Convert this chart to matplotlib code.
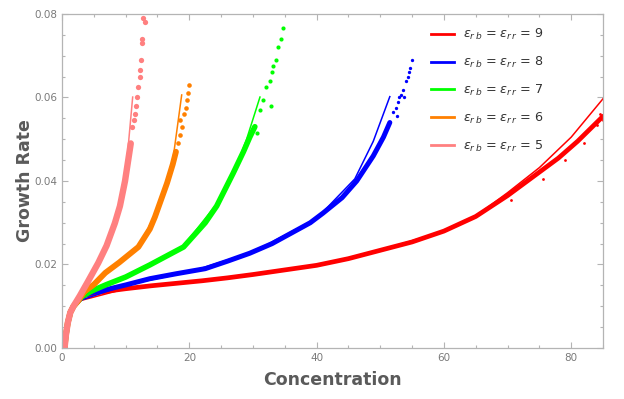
import matplotlib
matplotlib.use("Agg")
import matplotlib.pyplot as plt
from matplotlib.ticker import MultipleLocator, FormatStrFormatter

# eps = 9 (red)
conc_9 = [0.4, 0.6, 0.9, 1.3, 1.8, 2.5, 3.5, 5, 7, 10, 14, 18, 22, 26, 30, 35, 40, 45, 50, 55, 60, 65, 70, 74, 78, 81, 83, 85]
rate_9 = [0.000, 0.003, 0.006, 0.0085, 0.0100, 0.0112, 0.0125, 0.0131, 0.0136, 0.0142, 0.0149, 0.0155, 0.0161, 0.0168,
          0.0176, 0.0187, 0.0198, 0.0214, 0.0234, 0.0254, 0.0280, 0.0315, 0.0365, 0.0410, 0.0455, 0.0495, 0.0525, 0.0555]
conc_9_tail = [70.5, 75.5, 79.0, 82.0, 84.0, 84.6, 85.0]
rate_9_tail = [0.0355, 0.0405, 0.0450, 0.0492, 0.0535, 0.0560, 0.0545]
fit_conc_9 = [2.5, 10, 20, 30, 40, 50, 60, 65, 70, 75, 80, 85]
fit_rate_9 = [0.0112, 0.0142, 0.0158, 0.0176, 0.0198, 0.0234, 0.0280, 0.0316, 0.0372, 0.0432, 0.0505, 0.0597]

# eps = 8 (blue)
conc_8 = [0.4, 0.6, 0.9, 1.3, 1.8, 2.5, 3.5, 5, 7, 10, 13.8, 18, 22.5, 26, 29.5, 33, 36, 39, 41, 44, 46.3, 48.9, 50.5, 51.5]
rate_8 = [0.000, 0.003, 0.006, 0.0085, 0.0100, 0.0112, 0.0127, 0.0134, 0.0140, 0.0151, 0.0166, 0.0178, 0.0190,
          0.0208, 0.0227, 0.0250, 0.0275, 0.0300, 0.0323, 0.0360, 0.0400, 0.0460, 0.0505, 0.0540]
conc_8_tail = [52.0, 52.4, 52.8, 53.0, 53.3, 53.6, 54.0, 54.3, 54.5, 54.7, 55.0, 52.6, 53.8]
rate_8_tail = [0.0565, 0.0575, 0.0590, 0.0600, 0.0605, 0.0618, 0.0640, 0.0650, 0.0660, 0.0670, 0.0690, 0.0555, 0.0600]
fit_conc_8 = [2.5, 10, 20, 30, 40, 46, 48.9, 51.5]
fit_rate_8 = [0.0112, 0.0151, 0.0182, 0.0230, 0.0310, 0.0405, 0.0495, 0.0602]

# eps = 7 (green)
conc_7 = [0.4, 0.6, 0.9, 1.3, 1.8, 2.5, 3.5, 5, 7, 10, 13.8, 17, 19.1, 22.5, 24.3, 26.9, 28.5, 29.5, 30.3]
rate_7 = [0.000, 0.003, 0.006, 0.0085, 0.0100, 0.0112, 0.0130, 0.0139, 0.0152, 0.0170, 0.0199, 0.0225, 0.0242,
          0.0300, 0.0340, 0.0419, 0.0470, 0.0505, 0.0530]
conc_7_tail = [30.6, 31.1, 31.6, 32.1, 32.6, 33.0, 33.2, 33.6, 34.0, 34.4, 34.7, 32.8]
rate_7_tail = [0.0515, 0.0570, 0.0594, 0.0625, 0.0640, 0.0660, 0.0675, 0.0690, 0.0720, 0.0740, 0.0766, 0.0580]
fit_conc_7 = [2.5, 7, 13.8, 19.1, 24.3, 27, 29, 31.1]
fit_rate_7 = [0.0112, 0.0152, 0.0199, 0.0245, 0.0345, 0.0420, 0.0500, 0.0601]

# eps = 6 (orange)
conc_6 = [0.4, 0.6, 0.9, 1.3, 1.8, 2.5, 3.5, 5, 6.8, 9, 12, 13.8, 14.6, 16.5, 17.4, 17.9]
rate_6 = [0.000, 0.003, 0.006, 0.0085, 0.0100, 0.0112, 0.0135, 0.0152, 0.0180, 0.0205, 0.0242, 0.0285, 0.0314, 0.0395,
          0.0440, 0.0470]
conc_6_tail = [18.2, 18.5, 18.8, 19.2, 19.4, 19.6, 19.8, 20.0, 18.6]
rate_6_tail = [0.0490, 0.0510, 0.0530, 0.0560, 0.0575, 0.0594, 0.0610, 0.0630, 0.0545]
fit_conc_6 = [2.5, 6.8, 12, 14.6, 16.5, 17.5, 18.8]
fit_rate_6 = [0.0112, 0.0180, 0.0242, 0.0318, 0.0400, 0.0460, 0.0606]

# eps = 5 (pink)
conc_5 = [0.4, 0.6, 0.9, 1.3, 1.8, 2.8, 4.1, 5.7, 7.0, 8.3, 9.1, 9.9, 10.4, 10.8]
rate_5 = [0.000, 0.003, 0.006, 0.0085, 0.0100, 0.0125, 0.0160, 0.0204, 0.0245, 0.0299, 0.0340, 0.0400, 0.0450, 0.0490]
conc_5_tail = [11.0, 11.3, 11.5, 11.6, 11.8, 12.0, 12.2, 12.3, 12.4, 12.5, 12.6, 12.8, 13.0]
rate_5_tail = [0.0530, 0.0545, 0.0560, 0.0580, 0.0601, 0.0625, 0.0650, 0.0666, 0.0690, 0.0730, 0.0740, 0.0790, 0.0780]
fit_conc_5 = [0.4, 1.3, 2.8, 5.7, 8.3, 9.9, 10.5, 11.1]
fit_rate_5 = [0.000, 0.0085, 0.0125, 0.0204, 0.0299, 0.0400, 0.0500, 0.0601]

eps_values = [9, 8, 7, 6, 5]
colors = ["#ff0000", "#0000ff", "#00ff00", "#ff8000", "#ff8080"]

series = [
    (conc_9, rate_9, conc_9_tail, rate_9_tail, fit_conc_9, fit_rate_9),
    (conc_8, rate_8, conc_8_tail, rate_8_tail, fit_conc_8, fit_rate_8),
    (conc_7, rate_7, conc_7_tail, rate_7_tail, fit_conc_7, fit_rate_7),
    (conc_6, rate_6, conc_6_tail, rate_6_tail, fit_conc_6, fit_rate_6),
    (conc_5, rate_5, conc_5_tail, rate_5_tail, fit_conc_5, fit_rate_5),
]
band_widths = [3.4, 3.6, 4.0, 4.2, 4.6]
dot_sizes = [2.0, 2.4, 3.0, 3.3, 3.8]

plt.rcParams["mathtext.fontset"] = "dejavusans"

fig = plt.figure(figsize=(6.24, 3.99), dpi=100)
ax = fig.add_axes([0.0994, 0.1278, 0.8670, 0.8372])

for (c, r, ct, rt, fc, fr), col, bw, ds, eps in zip(series, colors, band_widths, dot_sizes, eps_values):
    ax.plot(c, r, color=col, lw=bw, solid_capstyle="round", solid_joinstyle="round")
    ax.plot(ct, rt, "o", color=col, ms=ds, mew=0)
    ax.plot(fc, fr, color=col, lw=1.1,
            label=r"$\epsilon_{r\,b}$ = $\epsilon_{r\,r}$ = %d" % eps)

ax.set_xlim(0, 85)
ax.set_ylim(0, 0.08)
ax.xaxis.set_major_locator(MultipleLocator(20))
ax.xaxis.set_minor_locator(MultipleLocator(5))
ax.yaxis.set_major_locator(MultipleLocator(0.02))
ax.yaxis.set_minor_locator(MultipleLocator(0.005))
ax.yaxis.set_major_formatter(FormatStrFormatter("%.2f"))

for s in ax.spines.values():
    s.set_color("#b4b4b4")
    s.set_linewidth(0.9)
ax.tick_params(which="both", direction="in", top=True, right=True, colors="#b4b4b4",
               labelcolor="#7a7a7a", labelsize=7.5, width=0.8)
ax.tick_params(which="major", length=4)
ax.tick_params(which="minor", length=2.5)

ax.set_xlabel("Concentration", fontsize=12.5, fontweight="bold", color="#5a5a5a", labelpad=6)
ax.set_ylabel("Growth Rate", fontsize=12.5, fontweight="bold", color="#5a5a5a", labelpad=0)

leg = ax.legend(loc="upper left", bbox_to_anchor=(0.66, 0.995), frameon=False, fontsize=9.2,
                handlelength=1.8, handletextpad=0.75, labelspacing=1.0)
for t in leg.get_texts():
    t.set_color("#333333")
for h in leg.get_lines():
    h.set_linewidth(2)

fig.savefig("out.png", dpi=100)
